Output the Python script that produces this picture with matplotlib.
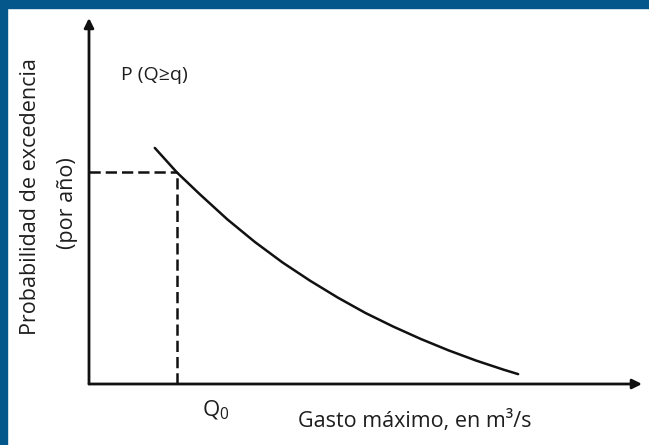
import matplotlib.pyplot as plt
from matplotlib.patches import Rectangle

# curve (x: gasto, y: probabilidad), arbitrary units
gasto = [1.19, 1.59, 2.0, 2.5, 3.0, 3.5, 4.0, 4.5, 5.0, 5.5, 6.0, 6.5, 7.0, 7.5, 7.76]
prob = [0.645, 0.578, 0.519, 0.450, 0.388, 0.332, 0.282, 0.236, 0.194, 0.157, 0.123, 0.092, 0.064, 0.039, 0.027]
q0 = 1.59
p0 = 0.578
x_max = 10.0
y_max = 1.0

W, H = 649, 445
plt.rcParams['font.family'] = ['Open Sans', 'DejaVu Sans']
plt.rcParams['mathtext.default'] = 'regular'

fig = plt.figure(figsize=(W / 100, H / 100), dpi=100)
fig.patch.set_facecolor('white')

# blue frame (top bar + left bar)
blue = '#03578a'
fig.patches.append(Rectangle((0, 1 - 8 / H), 1, 8 / H, transform=fig.transFigure, color=blue, zorder=0))
fig.patches.append(Rectangle((0, 0), 7 / W, 1, transform=fig.transFigure, color=blue, zorder=0))

# axes: origin at pixel (89, 384), x arrow to 642, y arrow to 18
ax = fig.add_axes([89 / W, (H - 384) / H, (642 - 89) / W, (384 - 18) / H])
ax.set_xlim(0, x_max)
ax.set_ylim(0, y_max)
ax.axis('off')

arrow = dict(arrowstyle='-|>', color='#111111', lw=2.0, mutation_scale=14, shrinkA=0, shrinkB=0)
ax.annotate('', xy=(x_max, 0), xytext=(0, 0), arrowprops=arrow, annotation_clip=False)
ax.annotate('', xy=(0, y_max), xytext=(0, 0), arrowprops=arrow, annotation_clip=False)

ax.plot(gasto, prob, color='#111111', lw=1.8, solid_capstyle='round', solid_joinstyle='round')
ax.plot([0, q0], [p0, p0], color='#111111', lw=1.8, dashes=(4.5, 2))
ax.plot([q0, q0], [0, p0], color='#111111', lw=1.8, dashes=(4.5, 2))

# texts
txt = '#1e1e1e'
fig.text(121 / W, 1 - 75 / H, 'P (Q≥q)', fontsize=14, ha='left', va='center', color=txt)
fig.text(216 / W, 1 - 410 / H, 'Q$_0$', fontsize=16, ha='center', va='center', color=txt)
fig.text(415 / W, 1 - 421 / H, 'Gasto máximo, en m³/s', fontsize=15.5, ha='center', va='center', color=txt)
fig.text(31 / W, 1 - 197 / H, 'Probabilidad de excedencia', fontsize=15.5, rotation=90,
         ha='center', va='center', color=txt)
fig.text(67 / W, 1 - 203 / H, '(por año)', fontsize=15.5, rotation=90,
         ha='center', va='center', color=txt)

fig.savefig('out.png', dpi=100)
